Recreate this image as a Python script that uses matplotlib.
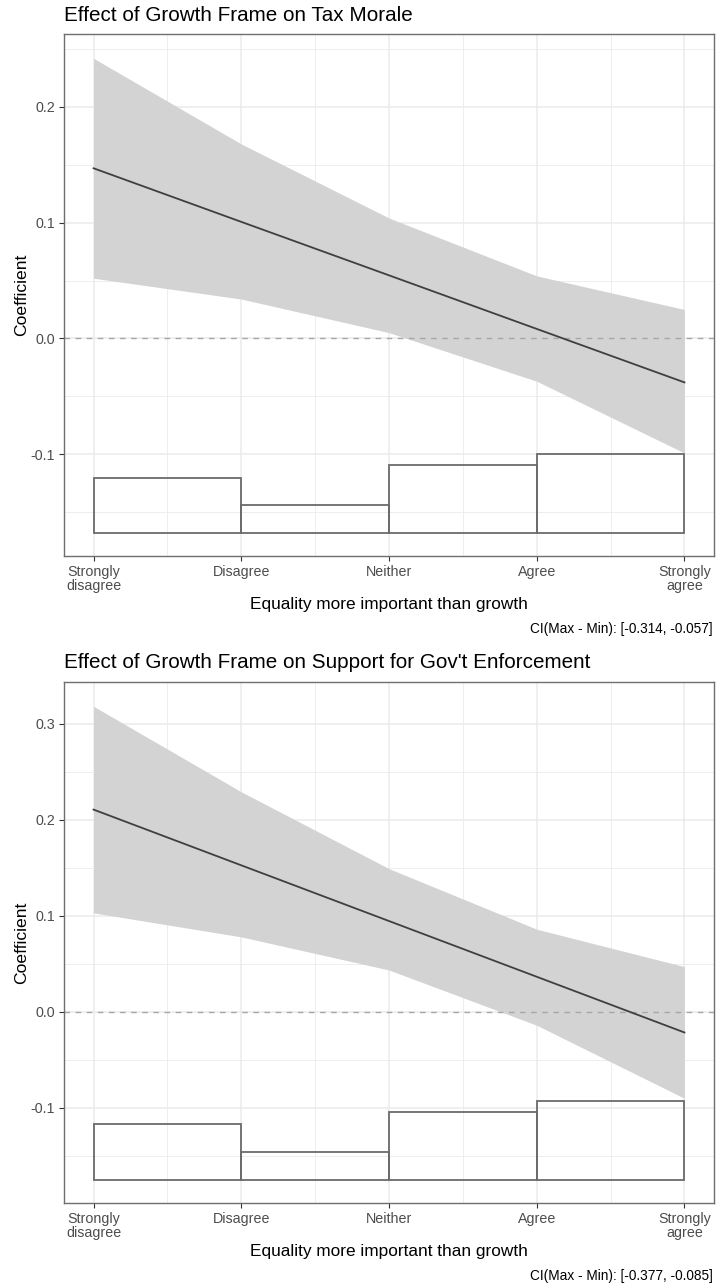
import matplotlib
matplotlib.use("Agg")
import matplotlib.pyplot as plt
from matplotlib.patches import Rectangle
import numpy as np

plt.rcParams["font.family"] = ["Liberation Sans", "DejaVu Sans"]

# Response scale
levels = [1, 2, 3, 4, 5]
level_labels = ["Strongly\ndisagree", "Disagree", "Neither", "Agree", "Strongly\nagree"]

# Panel 1: tax morale
tm_title = "Effect of Growth Frame on Tax Morale"
tm_est = [0.147, 0.1007, 0.0545, 0.0082, -0.038]
tm_upper = [0.242, 0.168, 0.104, 0.054, 0.025]
tm_lower = [0.052, 0.034, 0.005, -0.037, -0.099]
tm_hist_base = -0.168
tm_hist_top = [-0.1204, -0.1437, -0.1098, -0.1000]
tm_caption = "CI(Max - Min): [-0.314, -0.057]"
tm_yticks = [-0.1, 0.0, 0.1, 0.2]
tm_ylim = (-0.188, 0.263)

# Panel 2: support for government enforcement
ge_title = "Effect of Growth Frame on Support for Gov't Enforcement"
ge_est = [0.2105, 0.1525, 0.0945, 0.0365, -0.0215]
ge_upper = [0.318, 0.229, 0.149, 0.086, 0.047]
ge_lower = [0.103, 0.078, 0.0435, -0.014, -0.090]
ge_hist_base = -0.175
ge_hist_top = [-0.117, -0.1458, -0.1045, -0.0927]
ge_caption = "CI(Max - Min): [-0.377, -0.085]"
ge_yticks = [-0.1, 0.0, 0.1, 0.2, 0.3]
ge_ylim = (-0.199, 0.3433)

W, H = 717, 1284
fig = plt.figure(figsize=(W / 100, H / 100), dpi=100)


def px_axes(left, top, right, bottom):
    return fig.add_axes([left / W, 1 - bottom / H, (right - left) / W, (bottom - top) / H])


def draw_panel(ax, title, est, upper, lower, base, tops, caption, yticks, ylim,
               title_y, caption_y, xlabel_y):
    ax.set_xlim(0.8, 5.2)
    ax.set_ylim(*ylim)
    ax.set_facecolor("white")
    # grid: major at ticks, minor halfway between
    for x in levels:
        ax.axvline(x, color="#EBEBEB", lw=1.1, zorder=0)
    for x in np.arange(1.5, 5, 1.0):
        ax.axvline(x, color="#EBEBEB", lw=0.6, zorder=0)
    for y in yticks:
        ax.axhline(y, color="#EBEBEB", lw=1.1, zorder=0)
    ylo = yticks[0] - 0.05
    for y in np.arange(ylo, ylim[1], 0.1):
        if ylim[0] < y < ylim[1]:
            ax.axhline(y, color="#EBEBEB", lw=0.6, zorder=0)

    ax.fill_between(levels, lower, upper, color="#D3D3D3", lw=0, zorder=1)
    ax.axhline(0, color="#A6A6A6", lw=1.0, ls=(0, (4, 4)), zorder=2)
    ax.plot(levels, est, color="#3F3F3F", lw=1.3, zorder=3)

    for i, t in enumerate(tops):
        ax.add_patch(Rectangle((levels[i], base), 1, t - base, facecolor="none",
                               edgecolor="#6B6B6B", lw=1.3, zorder=3))

    ax.set_xticks(levels)
    ax.set_xticklabels(level_labels, color="#4D4D4D", fontsize=10.3,
                       linespacing=1.0, multialignment="center")
    ax.set_yticks(yticks)
    ax.set_yticklabels([f"{v:.1f}" for v in yticks], color="#4D4D4D", fontsize=10.3)
    ax.tick_params(length=3.5, width=0.8, color="#333333", pad=3)
    for s in ax.spines.values():
        s.set_color("#6E6E6E")
        s.set_linewidth(1.0)
    ax.set_ylabel("Coefficient", fontsize=12.6, color="black", labelpad=1)

    fig.text(64 / W, 1 - title_y / H, title, fontsize=14.9, ha="left", va="baseline")
    fig.text(389 / W, 1 - xlabel_y / H, "Equality more important than growth",
             fontsize=12.4, ha="center", va="baseline")
    fig.text(713 / W, 1 - caption_y / H, caption, fontsize=9.8, ha="right", va="baseline")


ax1 = px_axes(64, 34, 714, 556)
draw_panel(ax1, tm_title, tm_est, tm_upper, tm_lower, tm_hist_base, tm_hist_top,
           tm_caption, tm_yticks, tm_ylim, 21, 633, 609)

ax2 = px_axes(64, 682, 714, 1203)
draw_panel(ax2, ge_title, ge_est, ge_upper, ge_lower, ge_hist_base, ge_hist_top,
           ge_caption, ge_yticks, ge_ylim, 668, 1280, 1256)

fig.savefig("out.png", dpi=100, facecolor="white")
